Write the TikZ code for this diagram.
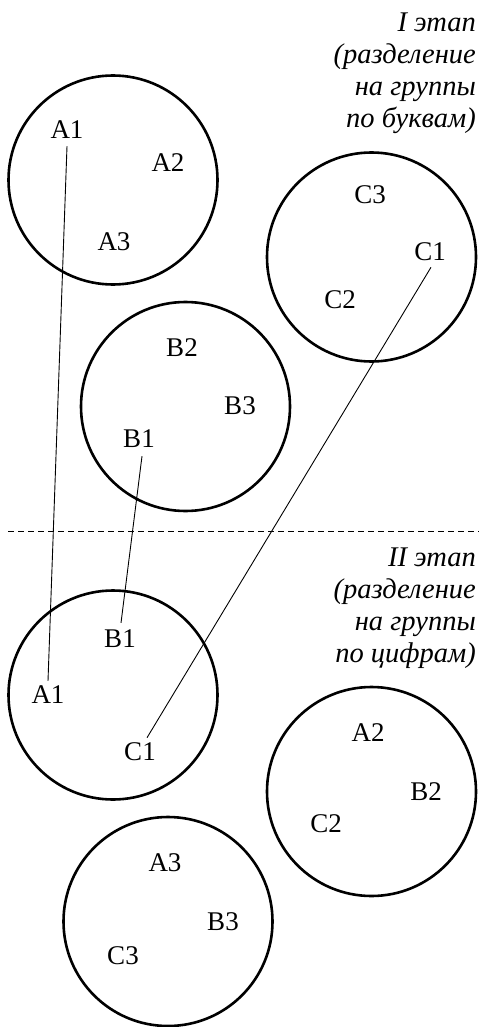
\documentclass[tikz,border=0pt]{standalone}
\usepackage{fontspec}
\setmainfont{Liberation Serif}
\begin{document}
\begin{tikzpicture}[x=1pt,y=-1pt,
  grp/.style={draw,circle,line width=2.6pt,inner sep=0pt,minimum size=209pt},
  lbl/.style={font=\fontsize{27}{30}\selectfont,inner sep=0pt},
  stage/.style={font=\fontsize{28.5}{32}\selectfont\itshape,inner sep=0pt,anchor=base east},
  link/.style={line width=0.9pt}]
\useasboundingbox (0,0) rectangle (479,1027);
% circles
\node[grp] (cA) at (113,180) {};
\node[grp] (cC) at (371.5,257) {};
\node[grp] (cB) at (185.5,406.5) {};
\node[grp] (c1) at (113,695) {};
\node[grp] (c2) at (371.5,791.5) {};
\node[grp] (c3) at (168,921.5) {};
% stage I labels
\node[lbl] (a1) at (67,130) {A1};
\node[lbl] (a2) at (168,163) {A2};
\node[lbl] (a3) at (114,242) {A3};
\node[lbl] (cc3) at (370,195) {C3};
\node[lbl] (cc1) at (430,252) {C1};
\node[lbl] (cc2) at (340,300) {C2};
\node[lbl] (b2) at (182,348) {B2};
\node[lbl] (b3) at (240,406) {B3};
\node[lbl] (b1) at (139,439) {B1};
% stage II labels
\node[lbl] (nb1) at (120,639) {B1};
\node[lbl] (na1) at (48,695) {A1};
\node[lbl] (nc1) at (140,752) {C1};
\node[lbl] (na2) at (368,733) {A2};
\node[lbl] (nb2) at (426,792) {B2};
\node[lbl] (nc2) at (326,824) {C2};
\node[lbl] (na3) at (165,863) {A3};
\node[lbl] (nb3) at (223,922) {B3};
\node[lbl] (nc3) at (123,956) {C3};
% stage captions
\node[stage] (s1a) at (476,32) {I этап};
\node[stage] (s1b) at (476,64) {(разделение};
\node[stage] (s1c) at (476,96) {на группы};
\node[stage] (s1d) at (476,128) {по буквам)};
\node[stage] (s2a) at (476,566) {II этап};
\node[stage] (s2b) at (476,598) {(разделение};
\node[stage] (s2c) at (476,630) {на группы};
\node[stage] (s2d) at (476,662) {по цифрам)};
% divider
\coordinate (dL) at (8,531);
\coordinate (dR) at (479,531);
\draw[line width=0.9pt,dash pattern=on 6pt off 4pt] (dL) -- (dR);
% connectors
\draw[link] ([yshift=-7pt]a1.south) -- ([yshift=5pt]na1.north);
\draw[link] ([yshift=-8pt]b1.south -| 142,0) -- ([yshift=7pt]nb1.north -| 121,0);
\draw[link] ([shift={(1pt,-6pt)}]cc1.south) -- ([shift={(7pt,5pt)}]nc1.north);
\end{tikzpicture}
\end{document}
